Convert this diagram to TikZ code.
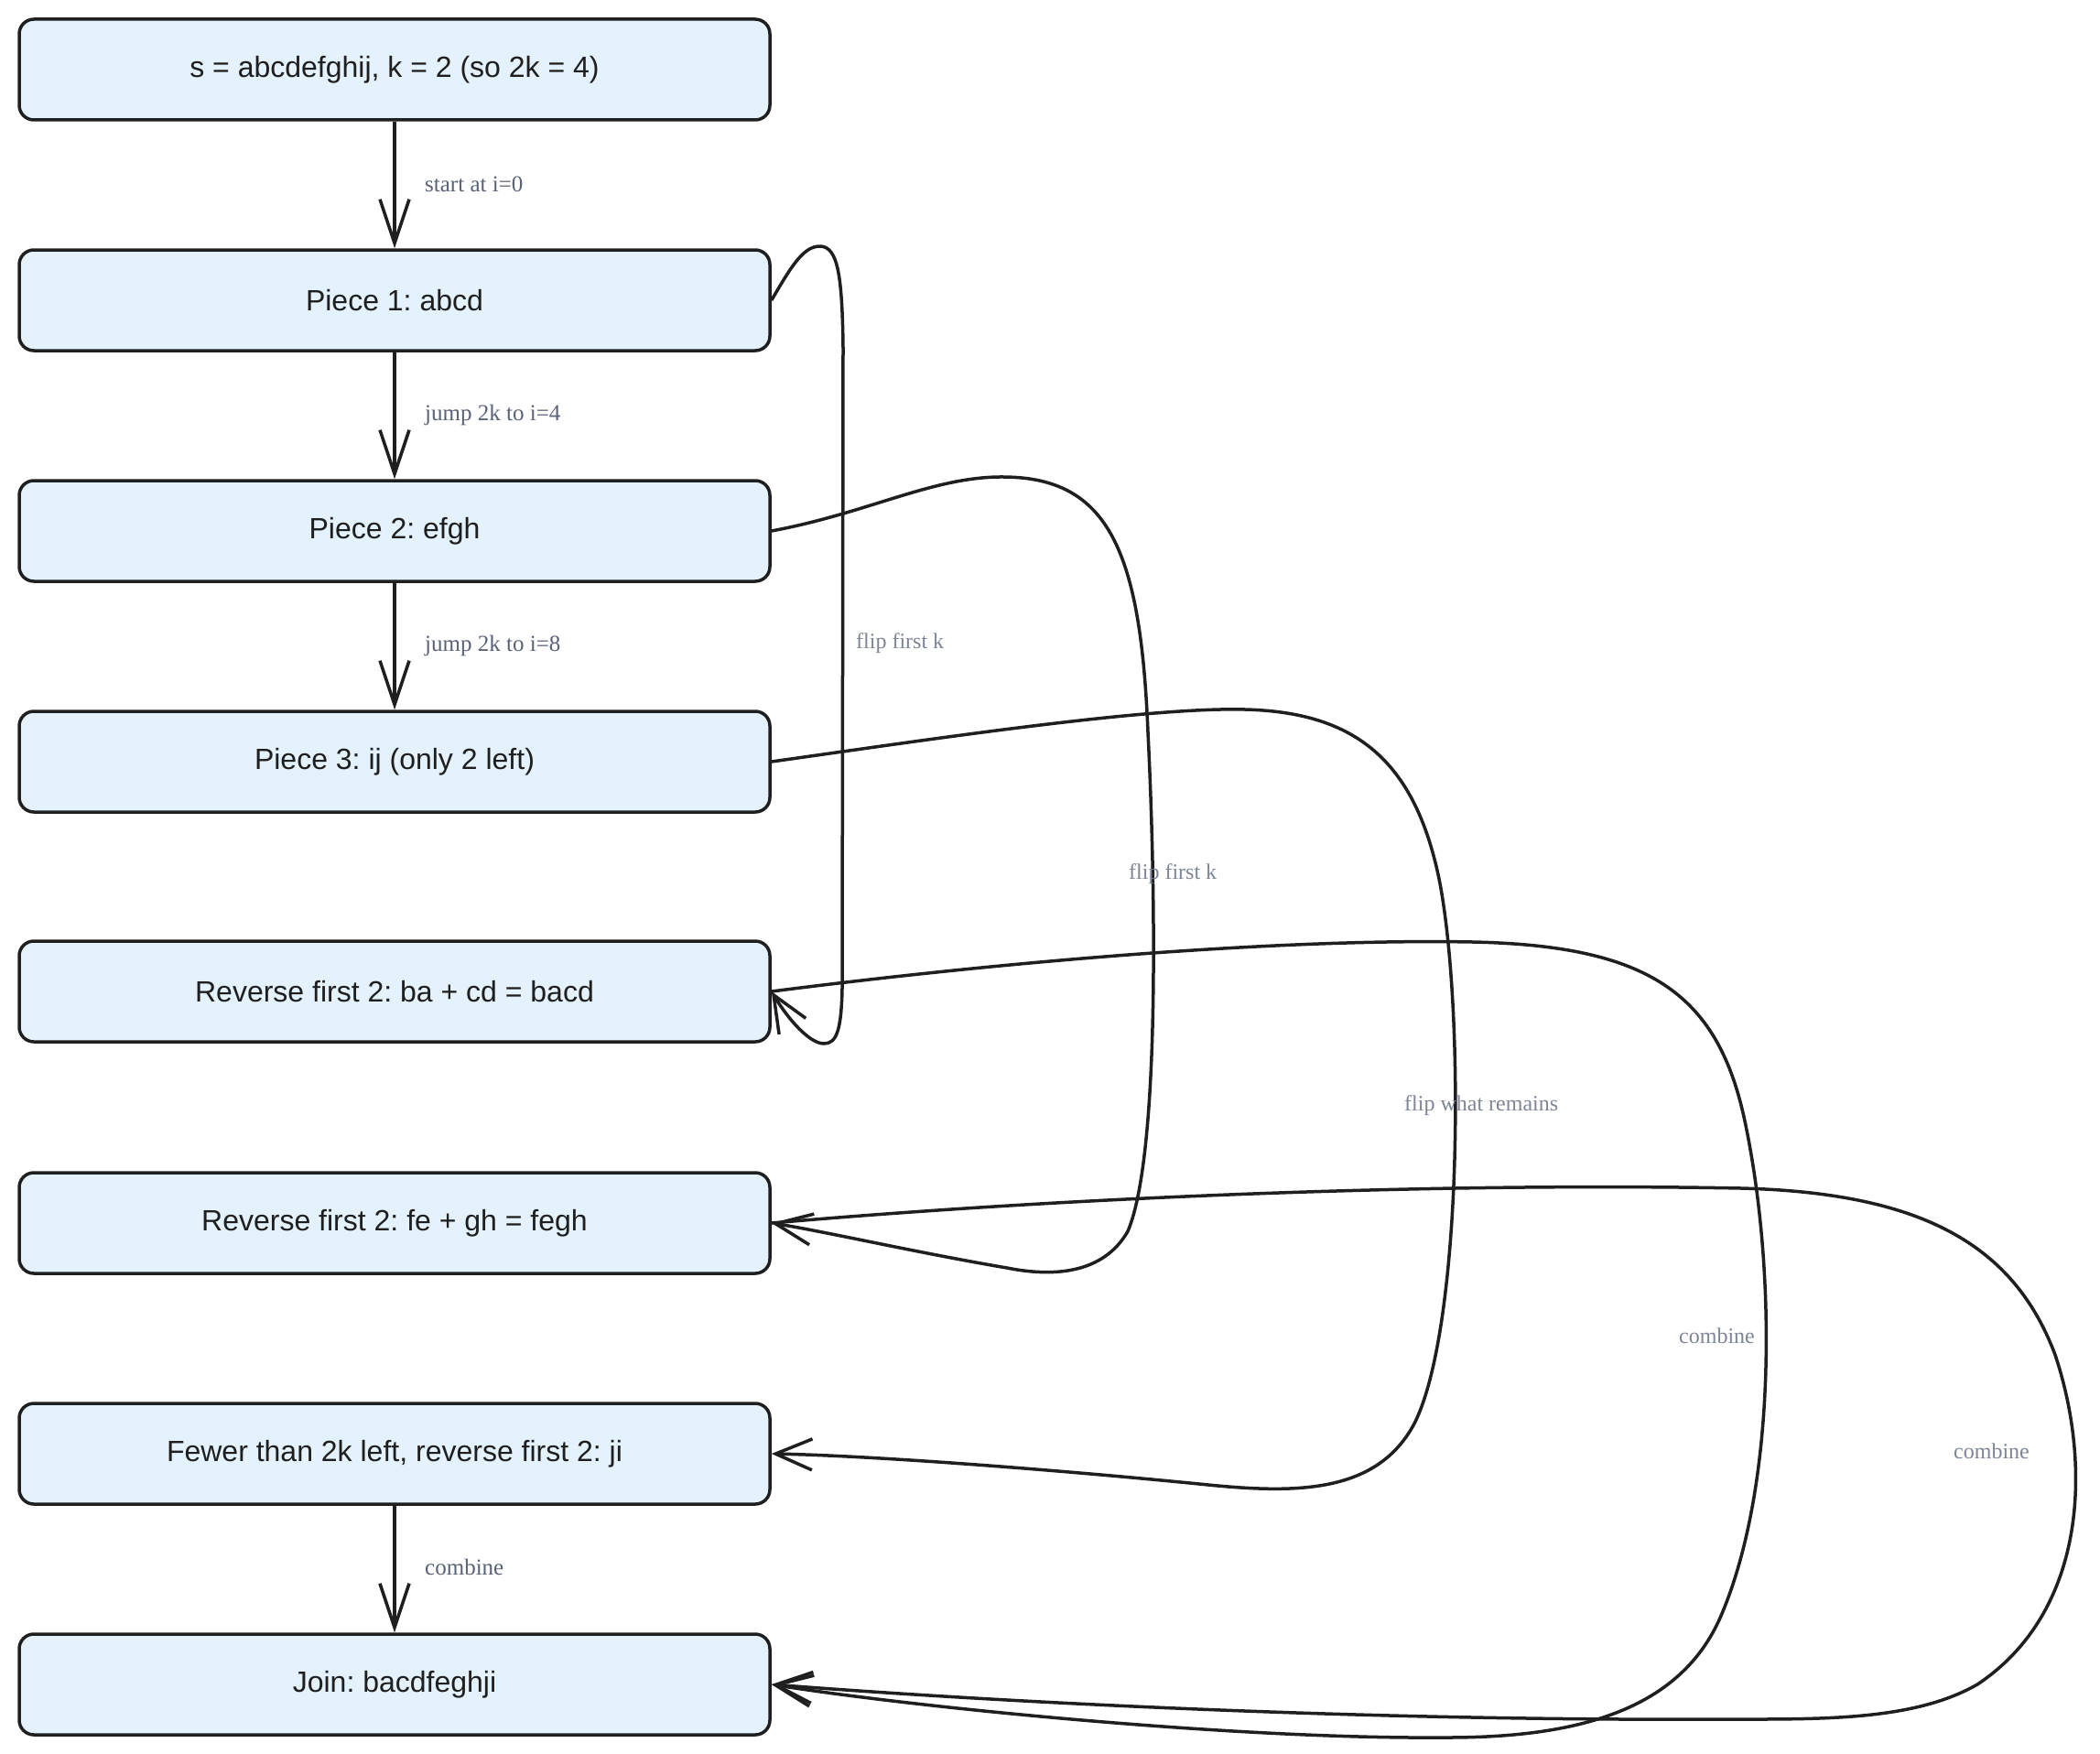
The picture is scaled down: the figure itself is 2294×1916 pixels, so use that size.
\documentclass[tikz,border=0pt]{standalone}
\usepackage{fontspec}
\setmainfont{Liberation Serif}
\newfontfamily\boxfont{Liberation Sans}
\usetikzlibrary{arrows.meta}
\frenchspacing
\definecolor{boxfill}{HTML}{E3F2FD}
\definecolor{ink}{HTML}{1F1F1F}
\definecolor{lbldark}{HTML}{5A6276}
\definecolor{lbllight}{HTML}{7D8596}
\tikzset{
  stepbox/.style={draw=ink, fill=boxfill, line width=3.5pt, rounded corners=16pt,
    minimum width=820pt, minimum height=110pt, inner sep=0pt,
    font=\boxfont\fontsize{32}{38}\selectfont, text=ink},
  arr/.style={draw=ink, line width=3.5pt,
    -{Straight Barb[length=48pt,width=32pt,line width=3.5pt]}},
  carr/.style={draw=ink, line width=3.5pt,
    -{Straight Barb[length=40pt,width=34pt,line width=3.5pt]}},
  vlbl/.style={font=\fontsize{25}{30}\selectfont, text=lbldark, anchor=west, inner sep=0pt},
  clbl/.style={font=\fontsize{24}{29}\selectfont, text=lbllight, anchor=west, inner sep=0pt}
}
\begin{document}
\begin{tikzpicture}[x=1pt,y=-1pt]
\useasboundingbox[fill=white] (0,0) rectangle (2294,1916);
\node[stepbox] (s)  at (431,76)   {\frenchspacing s = abcdefghij, k = 2 (so 2k = 4)};
\node[stepbox] (p1) at (431,328)  {\frenchspacing Piece 1: abcd};
\node[stepbox] (p2) at (431,580)  {\frenchspacing Piece 2: efgh};
\node[stepbox] (p3) at (431,832)  {\frenchspacing Piece 3: ij (only 2 left)};
\node[stepbox] (r1) at (431,1083) {\frenchspacing Reverse first 2: ba + cd = bacd};
\node[stepbox] (r2) at (431,1336) {\frenchspacing Reverse first 2: fe + gh = fegh};
\node[stepbox] (r3) at (431,1588) {\frenchspacing Fewer than 2k left, reverse first 2: ji};
\node[stepbox] (j)  at (431,1840) {\frenchspacing Join: bacdfeghji};

% vertical edges
\draw[arr] (s.south) -- (p1.north);
\draw[arr] (p1.south) -- (p2.north);
\draw[arr] (p2.south) -- (p3.north);
\draw[arr] (r3.south) -- (j.north);
\node[vlbl] (l1) at (464,201)  {start at i=0};
\node[vlbl] (l2) at (464,453)  {jump 2k to i=4};
\node[vlbl] (l3) at (464,705)  {jump 2k to i=8};
\node[vlbl] (l4) at (464,1712) {combine};

% flip first k : p1 -> r1
\draw[carr] (p1.east) .. controls (865,290) and (878,268) .. (897,269)
  .. controls (915,271) and (920,300) .. (921,380)
  -- (920,1080) .. controls (919,1125) and (914,1140) .. (900,1140)
  .. controls (885,1140) and (862,1115) .. (r1.east);
\node[clbl] (l5) at (935,703) {flip first k};

% flip first k : p2 -> r2
\draw[carr] (p2.east) .. controls (950,560) and (1020,520) .. (1097,521)
  .. controls (1210,522) and (1246,600) .. (1254,800)
  .. controls (1262,960) and (1268,1260) .. (1232,1345)
  .. controls (1205,1392) and (1150,1395) .. (1100,1385)
  .. controls (1000,1368) and (900,1345) .. (r2.east);
\node[clbl] (l6) at (1233,955) {flip first k};

% flip what remains : p3 -> r3
\draw[carr] (p3.east) .. controls (1000,810) and (1250,772) .. (1360,775)
  .. controls (1480,778) and (1545,830) .. (1572,960)
  .. controls (1600,1100) and (1598,1450) .. (1545,1555)
  .. controls (1505,1630) and (1420,1632) .. (1320,1622)
  .. controls (1150,1605) and (950,1590) .. (r3.east);
\node[clbl] (l7) at (1534,1208) {flip what remains};

% combine : r1 -> j
\draw[carr] (r1.east) .. controls (1100,1050) and (1400,1025) .. (1609,1029)
  .. controls (1800,1033) and (1875,1085) .. (1905,1220)
  .. controls (1940,1380) and (1942,1620) .. (1880,1765)
  .. controls (1835,1870) and (1720,1898) .. (1580,1898)
  .. controls (1350,1900) and (1000,1865) .. (j.east);
\node[clbl] (l8) at (1834,1459) {combine};

% combine : r2 -> j
\draw[carr] (r2.east) .. controls (1200,1305) and (1600,1292) .. (1902,1298)
  .. controls (2100,1303) and (2200,1360) .. (2245,1480)
  .. controls (2285,1600) and (2280,1760) .. (2160,1840)
  .. controls (2090,1880) and (1990,1878) .. (1880,1878)
  .. controls (1500,1880) and (1100,1860) .. (j.east);
\node[clbl] (l9) at (2134,1585) {combine};
\end{tikzpicture}
\end{document}
